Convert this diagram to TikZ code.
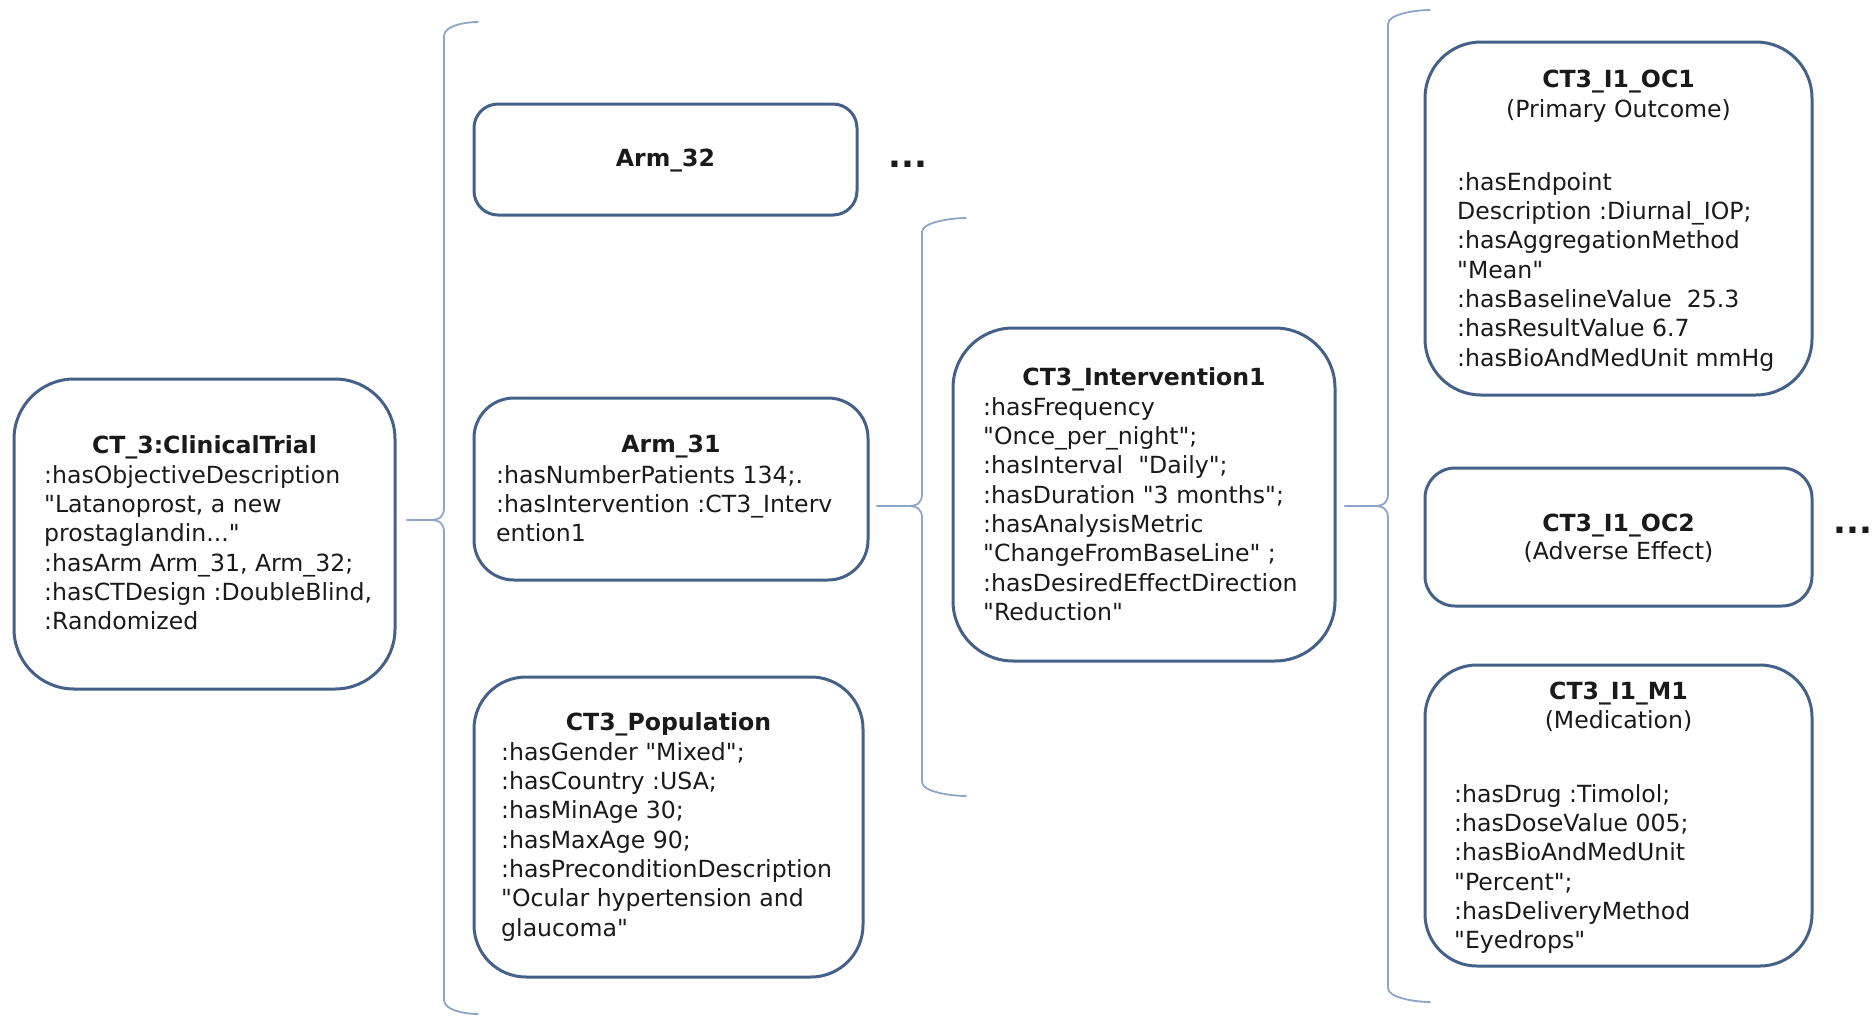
\documentclass[tikz,border=0pt]{standalone}
\usepackage{fontspec}
\setmainfont{DejaVu Sans}[Ligatures=TeXOff]
\definecolor{boxline}{HTML}{44618A}
\definecolor{braceline}{HTML}{8CA5C8}
\definecolor{ink}{HTML}{1A1A1A}
% upper and lower halves of a left-pointing curly brace, starting at its tip
% #1 tip, #2 lead length, #3 upper stem, #4 lower stem, #5 hook length
\newcommand\bracefrom[5]{%
  \draw[bracestyle] (#1) -- ++(#2,0) .. controls +(9,0) and +(0,9) .. ++(14,-12)
     -- ++(0,-#3) .. controls +(0,-10) and +(-14,0) .. ++(#5,-14);
  \draw[bracestyle] (#1) -- ++(#2,0) .. controls +(9,0) and +(0,-9) .. ++(14,12)
     -- ++(0,#4) .. controls +(0,10) and +(-14,0) .. ++(#5,14);
}
\begin{document}
\begin{tikzpicture}[x=1pt,y=-1pt,
  card/.style={draw=boxline, line width=3pt, fill=white, inner sep=0pt},
  bracestyle/.style={draw=braceline, line width=1.8pt, line cap=round, line join=round},
  txt/.style={font=\fontsize{23.6}{29.3}\selectfont, text=ink, inner sep=0pt},
  ttl/.style={txt, font=\fontsize{23.6}{29.3}\selectfont\bfseries, anchor=base},
  sub/.style={txt, anchor=base},
  body/.style={txt, anchor=north west, align=left},
  more/.style={font=\fontsize{34}{40}\selectfont\bfseries, text=ink, inner sep=0pt, anchor=base}]
\useasboundingbox (0,0) rectangle (1875,1017);

% boxes
\node[card, rounded corners=60pt, minimum width=381pt, minimum height=310pt] (ct) at (204.5,534) {};
\node[card, rounded corners=24pt, minimum width=383pt, minimum height=111pt] (arm32) at (665.5,159.5) {};
\node[card, rounded corners=40pt, minimum width=394pt, minimum height=182pt] (arm31) at (671,489) {};
\node[card, rounded corners=52pt, minimum width=389pt, minimum height=300pt] (pop) at (668.5,827) {};
\node[card, rounded corners=60pt, minimum width=382pt, minimum height=333pt] (int) at (1144,494.5) {};
\node[card, rounded corners=56pt, minimum width=387pt, minimum height=353pt] (oc1) at (1618.5,218.5) {};
\node[card, rounded corners=30pt, minimum width=387pt, minimum height=138pt] (oc2) at (1618.5,537) {};
\node[card, rounded corners=52pt, minimum width=387pt, minimum height=301pt] (m1) at (1618.5,815.5) {};

% braces
\coordinate (tip1) at (407,520);
\coordinate (tip2) at (877,506);
\coordinate (tip3) at (1345,506);
\bracefrom{tip1}{23}{472}{468}{34}
\bracefrom{tip2}{31}{262}{264}{44}
\bracefrom{tip3}{29}{470}{470}{42}

% CT_3
\node[ttl] (ctT) at (204.5,453) {CT\_3:ClinicalTrial};
\node[body] (ctB) at (44,463) {\rule{0pt}{20pt}:hasObjectiveDescription\\
"Latanoprost, a new\\
prostaglandin..."\\
:hasArm Arm\_31, Arm\_32;\\
:hasCTDesign :DoubleBlind,\\
:Randomized};

% Arm_32
\node[ttl] (a32T) at (665.5,166) {Arm\_32};
\node[more] (dots1) at (908,167) {...};

% Arm_31
\node[ttl] (a31T) at (671,452) {Arm\_31};
\node[body] (a31B) at (496,463) {\rule{0pt}{20pt}:hasNumberPatients 134;.\\
:hasIntervention :CT3\_Interv\\
ention1};

% CT3_Population
\node[ttl] (popT) at (668.5,730) {CT3\_Population};
\node[body] (popB) at (501,740) {\rule{0pt}{20pt}:hasGender "Mixed";\\
:hasCountry :USA;\\
:hasMinAge 30;\\
:hasMaxAge 90;\\
:hasPreconditionDescription\\
"Ocular hypertension and\\
glaucoma"};

% CT3_Intervention1
\node[ttl] (intT) at (1144,385) {CT3\_Intervention1};
\node[body] (intB) at (983,395) {\rule{0pt}{20pt}:hasFrequency\\
"Once\_per\_night";\\
:hasInterval\ \ "Daily";\\
:hasDuration "3 months";\\
:hasAnalysisMetric\\
"ChangeFromBaseLine" ;\\
:hasDesiredEffectDirection\\
"Reduction"};

% CT3_I1_OC1
\node[ttl] (oc1T) at (1618.5,87) {CT3\_I1\_OC1};
\node[sub] (oc1S) at (1618.5,117) {(Primary Outcome)};
\node[body] (oc1B) at (1457,170) {\rule{0pt}{20pt}:hasEndpoint\\
Description :Diurnal\_IOP;\\
:hasAggregationMethod\\
"Mean"\\
:hasBaselineValue\ \ 25.3\\
:hasResultValue 6.7\\
:hasBioAndMedUnit mmHg};

% CT3_I1_OC2
\node[ttl] (oc2T) at (1618.5,531) {CT3\_I1\_OC2};
\node[sub] (oc2S) at (1618.5,559) {(Adverse Effect)};
\node[more] (dots2) at (1853,533) {...};

% CT3_I1_M1
\node[ttl] (m1T) at (1618.5,699) {CT3\_I1\_M1};
\node[sub] (m1S) at (1618.5,728) {(Medication)};
\node[body] (m1B) at (1454,782) {\rule{0pt}{20pt}:hasDrug :Timolol;\\
:hasDoseValue 005;\\
:hasBioAndMedUnit\\
"Percent";\\
:hasDeliveryMethod\\
"Eyedrops"};
\end{tikzpicture}
\end{document}
